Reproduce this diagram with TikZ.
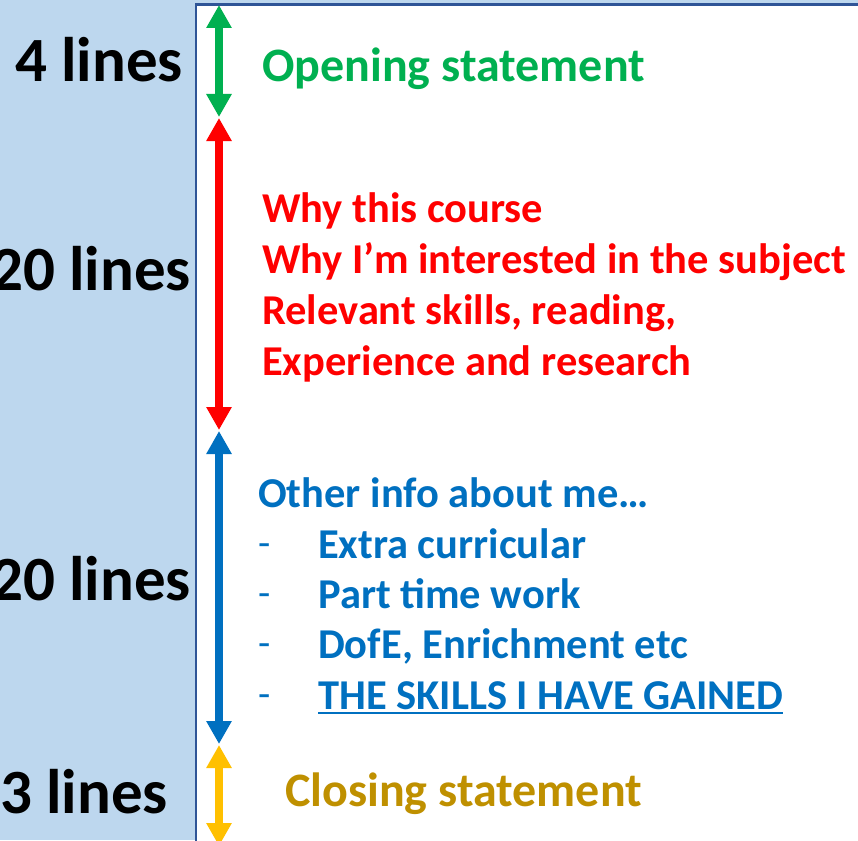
\documentclass[tikz,border=0pt]{standalone}
\usepackage{fontspec}
\setmainfont{Carlito}
\usetikzlibrary{arrows.meta}
\definecolor{bgblue}{HTML}{BDD7EE}
\definecolor{frameblue}{HTML}{2F5597}
\definecolor{cgreen}{HTML}{00B050}
\definecolor{cred}{HTML}{FF0000}
\definecolor{cblue}{HTML}{0070C0}
\definecolor{cyellow}{HTML}{FFC000}
\definecolor{cgold}{HTML}{BF9000}
\tikzset{
  dblarrow/.style={line width=8.5pt,{Triangle[width=24pt,length=23pt]}-{Triangle[width=24pt,length=23pt]}, shorten <=0pt, shorten >=0pt},
  lbl/.style={inner sep=0pt, anchor=base east, font=\fontsize{63}{70}\selectfont\bfseries, text=black},
  txt/.style={inner sep=0pt, anchor=base west, font=\fontsize{42.5}{50}\selectfont\bfseries},
  bigtxt/.style={inner sep=0pt, anchor=base west, font=\fontsize{48}{56}\selectfont\bfseries},
  bullet/.style={inner sep=0pt, anchor=base west, font=\fontsize{40}{48}\selectfont, text=cblue}
}
\begin{document}
\begin{tikzpicture}[x=1pt,y=-1pt]
\useasboundingbox (0,0) rectangle (858,840);
\fill[bgblue] (0,0) rectangle (858,840);
\fill[white] (196,4.5) rectangle (858,840);
\draw[frameblue, line width=2.5pt] (196,845) -- (196,4.5) -- (860,4.5);
% arrow end points
\coordinate (g1) at (219,5);
\coordinate (g2) at (219,117);
\coordinate (r1) at (219,118);
\coordinate (r2) at (219,430);
\coordinate (b1) at (219,431);
\coordinate (b2) at (219,744);
\coordinate (y1) at (219,745);
\coordinate (y2) at (219,846);
\draw[dblarrow, cgreen] (g1) -- (g2);
\draw[dblarrow, cred] (r1) -- (r2);
\draw[dblarrow, cblue] (b1) -- (b2);
\draw[dblarrow, cyellow] (y1) -- (y2);
% left labels
\node[lbl] (l1) at (183,82) {4 lines};
\node[lbl] (l2) at (191,290) {20 lines};
\node[lbl] (l3) at (191,600) {20 lines};
\node[lbl] (l4) at (168,813) {3 lines};
% texts
\node[bigtxt, text=cgreen] (o1) at (262,82) {Opening statement};
\node[txt, text=cred] (r1t) at (262,222) {Why this course};
\node[txt, text=cred] (r2t) at (262,273) {Why I’m interested in the subject};
\node[txt, text=cred] (r3t) at (262,324) {Relevant skills, reading,};
\node[txt, text=cred] (r4t) at (262,375) {Experience and research};
\node[txt, text=cblue] (b0t) at (258,507) {Other info about me…};
\node[bullet] (d1) at (258,556) {-};
\node[bullet] (d2) at (258,606) {-};
\node[bullet] (d3) at (258,656) {-};
\node[bullet] (d4) at (258,707) {-};
\node[txt, text=cblue] (b1t) at (318,558) {Extra curricular};
\node[txt, text=cblue] (b2t) at (318,608) {Part time work};
\node[txt, text=cblue] (b3t) at (318,658) {DofE, Enrichment etc};
\node[txt, text=cblue] (b4t) at (318,709) {THE SKILLS I HAVE GAINED};
\draw[cblue, line width=2pt] ([yshift=-4pt]b4t.base west) -- ([yshift=-4pt]b4t.base east);
\node[bigtxt, text=cgold] (c1) at (285,806) {Closing statement};
\end{tikzpicture}
\end{document}
